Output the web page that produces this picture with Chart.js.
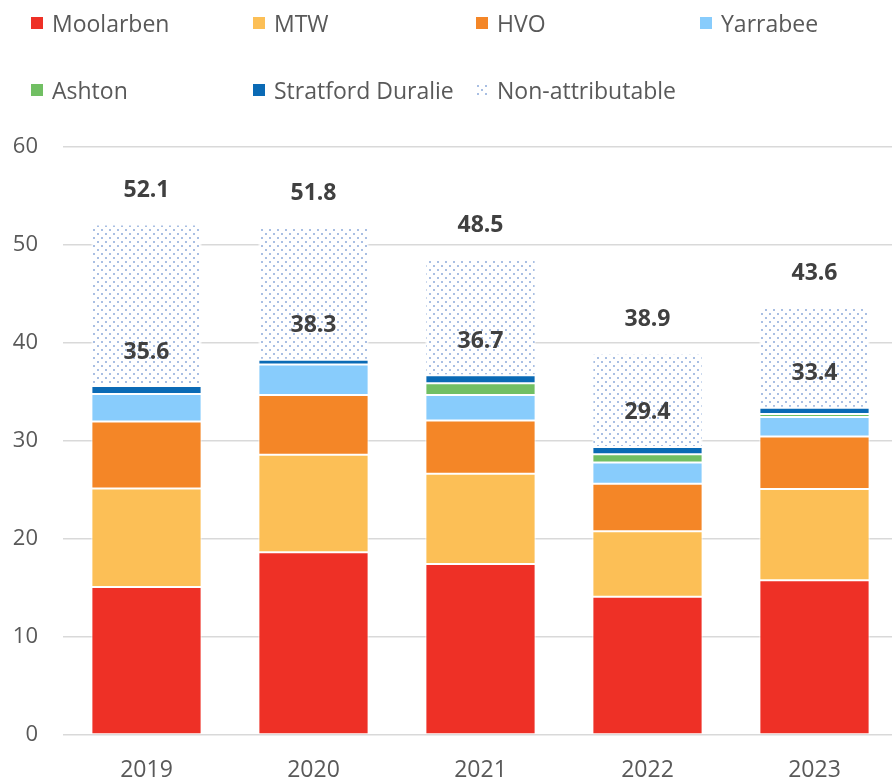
<!DOCTYPE html>
<html>
<head>
<meta charset="utf-8">
<script src="https://cdn.jsdelivr.net/npm/chart.js@4.4.1/dist/chart.umd.min.js"></script>
<style>
  html, body { margin: 0; padding: 0; background: #fff; }
  body { width: 892px; height: 780px; overflow: hidden; position: relative; font-family: "Open Sans", sans-serif; }
  #legend { position: absolute; left: 0; top: 0; width: 892px; height: 120px; }
  .item { position: absolute; display: flex; align-items: center; font-size: 23px; color: #595959; white-space: nowrap; }
  .box { width: 12px; height: 12px; margin-right: 9px; }
  #wrap { position: absolute; left: 0; top: 0; width: 930px; height: 780px; }
</style>
</head>
<body>
<div id="wrap"><canvas id="chart" width="930" height="780"></canvas></div>
<div id="legend"></div>
<script>
/* =========================
   DATA
========================= */
const years = ["2019", "2020", "2021", "2022", "2023"];

const moolarben  = [15.1, 18.65, 17.45, 14.1, 15.8];
const mtw        = [10.05, 9.95, 9.2, 6.7, 9.3];
const hvo        = [6.85, 6.1, 5.45, 4.85, 5.35];
const yarrabee   = [2.8, 3.1, 2.6, 2.15, 2.0];
const ashton     = [0, 0, 1.2, 0.85, 0.3];
const stratford  = [0.8, 0.5, 0.8, 0.75, 0.65];
const nonAttrib  = [16.5, 13.5, 11.8, 9.5, 10.2];

const yTicks = [0, 10, 20, 30, 40, 50, 60];

/* =========================
   DOTTED PATTERN
========================= */
function makeDots() {
  const c = document.createElement("canvas");
  c.width = 8;
  c.height = 8;
  const ctx = c.getContext("2d");
  ctx.fillStyle = "#ffffff";
  ctx.fillRect(0, 0, 8, 8);
  ctx.fillStyle = "#a9bfe3";
  ctx.fillRect(1, 1, 2, 2);
  ctx.fillRect(5, 5, 2, 2);
  return c;
}
const dotTile = makeDots();
const dots = document.getElementById("chart").getContext("2d").createPattern(dotTile, "repeat");

const series = [
  { label: "Moolarben", data: moolarben, color: "#EE3026" },
  { label: "MTW", data: mtw, color: "#FCBF56" },
  { label: "HVO", data: hvo, color: "#F48627" },
  { label: "Yarrabee", data: yarrabee, color: "#88CCFC" },
  { label: "Ashton", data: ashton, color: "#71BF63" },
  { label: "Stratford Duralie", data: stratford, color: "#0A6AB5" },
  { label: "Non-attributable", data: nonAttrib, color: dots }
];

/* =========================
   LEGEND (HTML)
========================= */
const legendPos = [
  [31, 24], [253, 24], [476, 24], [700, 24],
  [31, 91], [253, 91], [476, 91]
];

const legend = document.getElementById("legend");
series.forEach((s, i) => {
  const item = document.createElement("div");
  item.className = "item";
  item.style.left = legendPos[i][0] + "px";
  item.style.top = (legendPos[i][1] - 17) + "px";
  const box = document.createElement("span");
  box.className = "box";
  if (typeof s.color === "string") box.style.background = s.color;
  else box.style.backgroundImage = `url(${dotTile.toDataURL()})`;
  item.appendChild(box);
  item.appendChild(document.createTextNode(s.label));
  legend.appendChild(item);
});

/* =========================
   TOTAL LABELS
========================= */
const totalsPlugin = {
  id: "totals",
  afterDatasetsDraw(chart) {
    const ctx = chart.ctx;
    const subMeta = chart.getDatasetMeta(5);
    const topMeta = chart.getDatasetMeta(6);
    ctx.save();
    ctx.font = "bold 23px 'Open Sans'";
    ctx.fillStyle = "#404040";
    ctx.textAlign = "center";
    ctx.textBaseline = "middle";
    years.forEach((_, i) => {
      const sub = moolarben[i] + mtw[i] + hvo[i] + yarrabee[i] + ashton[i] + stratford[i];
      const total = sub + nonAttrib[i];
      const x = subMeta.data[i].x;
      ctx.fillText(sub.toFixed(1), x, subMeta.data[i].y - 34);
      ctx.fillText(total.toFixed(1), x, topMeta.data[i].y - 34);
    });
    ctx.restore();
  }
};

/* =========================
   CHART
========================= */
new Chart(document.getElementById("chart"), {
  type: "bar",
  data: {
    labels: years,
    datasets: series.map(s => ({
      label: s.label,
      data: s.data,
      backgroundColor: s.color,
      borderColor: "#ffffff",
      borderWidth: 1,
      borderSkipped: false,
      barPercentage: 0.66,
      categoryPercentage: 1
    }))
  },
  options: {
    responsive: false,
    animation: false,
    layout: { padding: { top: 147, right: 32, left: 0, bottom: 0 } },
    plugins: {
      legend: { display: false },
      tooltip: { enabled: false }
    },
    scales: {
      x: {
        stacked: true,
        grid: { display: false, drawTicks: false },
        border: { display: false },
        ticks: { color: "#595959", font: { family: "Open Sans", size: 23 }, padding: 22 },
        afterFit: s => { s.height = 45; }
      },
      y: {
        stacked: true,
        min: 0,
        max: 60,
        afterBuildTicks: s => { s.ticks = yTicks.map(v => ({ value: v })); },
        grid: { color: "#d9d9d9", lineWidth: 1.5, drawTicks: false },
        border: { display: false },
        ticks: { color: "#595959", font: { family: "Open Sans", size: 22 }, padding: 25 },
        afterFit: s => { s.width = 63; }
      }
    }
  },
  plugins: [totalsPlugin]
});
</script>
</body>
</html>
